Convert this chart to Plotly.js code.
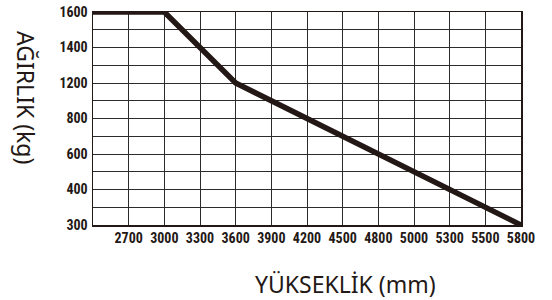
<!DOCTYPE html>
<html>
<head>
<meta charset="utf-8">
<script src="https://cdn.plot.ly/plotly-3.0.1.min.js"></script>
<style>html,body{margin:0;padding:0;background:#fff;}#chart{width:552px;height:300px;}</style>
</head>
<body>
<div id="chart"></div>
<script>
// Tick labels along the evenly spaced grid (original chart spacing is uniform)
var heightTicks = [2400, 2700, 3000, 3300, 3600, 3900, 4200, 4500, 4800, 5000, 5300, 5500, 5800];
var heightTickText = ["", "2700", "3000", "3300", "3600", "3900", "4200", "4500", "4800", "5000", "5300", "5500", "5800"];
var weightRows = [300, null, 400, null, 600, null, 800, null, 1200, null, 1400, null, 1600];

// Capacity curve
var heightMm = [2400, 3000, 3600, 5800];
var weightKg = [1600, 1600, 1200, 300];

var xPos = heightMm.map(function (h) { return heightTicks.indexOf(h); });
var yPos = weightKg.map(function (w) { return weightRows.indexOf(w); });
var yTickVals = weightRows.map(function (w, i) { return i; });
var yTickText = weightRows.map(function (w) { return w === null ? "" : String(w); });
var xTickVals = heightTicks.map(function (h, i) { return i; });

var tickFont = {family: "Roboto Condensed, DejaVu Sans Condensed, sans-serif", size: 14, color: "#231815", weight: "bold"};

var data = [{
  type: "scatter",
  mode: "lines",
  x: xPos,
  y: yPos,
  line: {color: "#231815", width: 5.5},
  hoverinfo: "skip"
}];

var layout = {
  width: 552, height: 300,
  margin: {l: 93, r: 31, t: 12, b: 75},
  paper_bgcolor: "#fff", plot_bgcolor: "#fff",
  showlegend: false,
  xaxis: {
    range: [0, 12], tickvals: xTickVals, ticktext: heightTickText,
    showgrid: true, gridcolor: "#2b2b2b", gridwidth: 1,
    showline: true, linecolor: "#231815", linewidth: 1.5, mirror: true,
    zeroline: false, ticks: "", tickfont: tickFont, fixedrange: true
  },
  yaxis: {
    range: [0, 12], tickvals: yTickVals, ticktext: yTickText,
    showgrid: true, gridcolor: "#2b2b2b", gridwidth: 1,
    showline: true, linecolor: "#231815", linewidth: 1.5, mirror: true,
    zeroline: false, ticks: "", tickfont: tickFont, ticklabelstandoff: 1, fixedrange: true
  },
  annotations: [
    {text: "YÜKSEKLİK (mm)", xref: "paper", yref: "paper",
     x: (345 - 93) / 428, y: -(284 - 225) / 213, xanchor: "center", yanchor: "middle",
     showarrow: false, font: {family: "Noto Sans, Open Sans, sans-serif", size: 23, color: "#231815"}},
    {text: "AĞIRLIK (kg)", xref: "paper", yref: "paper",
     x: -(93 - 26) / 428, y: (225 - 97) / 213, xanchor: "center", yanchor: "middle", textangle: 90,
     showarrow: false, font: {family: "Noto Sans, Open Sans, sans-serif", size: 23, color: "#231815"}}
  ]
};

Plotly.newPlot("chart", data, layout, {displayModeBar: false, staticPlot: true});
</script>
</body>
</html>
